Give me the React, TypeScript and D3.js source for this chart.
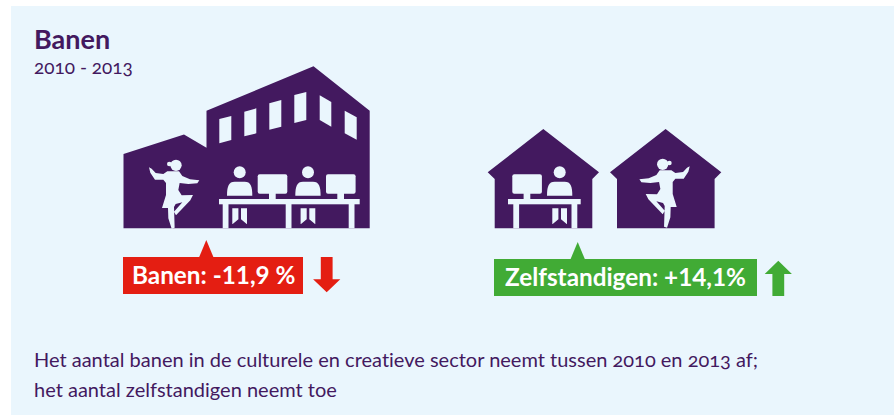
import React from 'react';
import * as d3 from 'd3';

const WIDTH = 894;
const HEIGHT = 415;
const PURPLE = '#43195f';
const PANEL = '#eaf6fd';
const RED = '#e41e12';
const GREEN = '#41ab35';

const title = 'Banen';
const period = '2010 - 2013';
const notes = [
  'Het aantal banen in de culturele en creatieve sector neemt tussen 2010 en 2013 af;',
  'het aantal zelfstandigen neemt toe',
];
const calloutLabels = ['Banen: -11,9 %', 'Zelfstandigen: +14,1%'];
const calloutValues = [-11.9, 14.1];

type Pt = [number, number];
const line = d3.line<Pt>();
const poly = (pts: Pt[]) => line(pts) + 'Z';

const bigBuilding: Pt[] = [
  [123.5, 154], [184, 134.5], [206.5, 147.7], [206.5, 110.7], [313.5, 66.3],
  [369.7, 110.7], [369.7, 228.3], [123.5, 228.3],
];
const windows: Pt[][] = [
  [[219.3, 119], [231.3, 116], [231.3, 140], [219.3, 143.3]],
  [[244.3, 111.7], [256.3, 108.3], [256.3, 133.3], [244.3, 136.3]],
  [[269.3, 103.3], [281.3, 100], [281.3, 126.7], [269.3, 129.7]],
  [[294.3, 95], [306.3, 92], [306.3, 120], [294.3, 123]],
  [[319.7, 95.3], [331.3, 102], [331.3, 126.7], [319.7, 120]],
  [[344.7, 110.7], [356.7, 117.3], [356.7, 139.7], [344.7, 133.3]],
];
const house: Pt[] = [
  [0, 43.3], [55.6, 0], [111.3, 43.3], [104.6, 50], [104.6, 99.3], [7, 99.3], [7, 50],
];
// dancer outline at 3x, origin top-left of the crop it was traced from
const dancer: Pt[] = [
  [117, 337], [125, 341], [137, 354], [160, 357], [172, 349], [207, 349], [217, 363], [240, 373],
  [268, 376], [262, 385], [235, 387], [209, 384], [205, 405], [215, 421], [249, 420], [241, 436],
  [198, 481], [192, 470], [217, 442], [197, 447], [192, 456], [194, 518], [185, 521], [175, 490],
  [174, 459], [156, 459], [168, 420], [168, 384], [160, 374], [135, 374], [121, 353],
];

function Dancer({ transform }: { transform: string }) {
  return (
    <g transform={transform} fill={PANEL}>
      <path d={poly(dancer)} />
      <circle cx={198} cy={331} r={17} />
      <circle cx={178} cy={327} r={7} />
    </g>
  );
}

// seated figure, origin at the head centre
function Person({ x }: { x: number }) {
  return (
    <g transform={`translate(${x},172.3)`} fill={PANEL}>
      <circle r={6} />
      <path d="M-12.7,23.4 C-12.7,14 -11,9.4 -5,9.4 L5,9.4 C11,9.4 12.6,14 12.6,23.4 Z" />
      <path d="M-7.4,36 L-1.3,36 L-1.3,47 L-7,51.7 L-7.4,51.7 Z M1.3,36 L7.3,36 L7.3,51.7 L7,51.7 L1.3,47 Z" />
    </g>
  );
}

function Monitor({ x }: { x: number }) {
  return (
    <g fill={PANEL}>
      <rect x={x} y={174.3} width={29.6} height={19.4} rx={2} />
      <rect x={x + 11.3} y={193} width={6.7} height={7} />
    </g>
  );
}

function Desk({ x, width, legs }: { x: number; width: number; legs: number[] }) {
  return (
    <g fill={PANEL}>
      <rect x={x} y={199} width={width} height={5.3} />
      {legs.map(l => <rect key={l} x={l} y={204} width={5.8} height={24.3} />)}
    </g>
  );
}

const boxes = [
  { x: 123, y: 257, w: 180, h: 37, apex: 206.3, fill: RED, text: 132 },
  { x: 494, y: 259, w: 263, h: 37, apex: 577.7, fill: GREEN, text: 505 },
];

export default function App() {
  return (
    <svg width={WIDTH} height={HEIGHT} style={{ position: 'absolute', left: 0, top: 0, background: '#fff', fontVariantLigatures: 'none' }}
      fontFamily="Lato, 'Noto Sans', sans-serif">
      <rect x={11} y={6} width={WIDTH - 11} height={HEIGHT - 6} fill={PANEL} />

      <text x={34} y={49} fontSize={27} fontWeight={700} fill={PURPLE}>{title}</text>
      <text x={34} y={74} fontSize={19} fill={PURPLE} style={{ fontFeatureSettings: '"onum"' }}>{period}</text>

      {/* big building */}
      <path d={poly(bigBuilding)} fill={PURPLE} />
      {windows.map((w, i) => <path key={i} d={poly(w)} fill={PANEL} />)}
      <Dancer transform="translate(110,55) scale(0.3333)" />
      <Person x={239.7} />
      <Monitor x={257.7} />
      <Person x={308} />
      <Monitor x={326} />
      <Desk x={219} width={140.7} legs={[222.7, 285.7, 348.7]} />

      {/* two small houses */}
      <path d={poly(house)} transform="translate(487.7,129)" fill={PURPLE} />
      <path d={poly(house)} transform="translate(610,129)" fill={PURPLE} />
      <Monitor x={512.3} />
      <Person x={559.7} />
      <Desk x={508} width={72.7} legs={[513.3, 571.5]} />
      <Dancer transform="translate(728.7,120) scale(-0.3333,0.3333) translate(0,-198)" />

      {/* callouts */}
      {boxes.map((b, i) => (
        <g key={i}>
          <path d={poly([[b.apex - 7.3, b.y + 0.5], [b.apex, b.y - 17], [b.apex + 7.3, b.y + 0.5]])} fill={b.fill} />
          <rect x={b.x} y={b.y} width={b.w} height={b.h} fill={b.fill} />
          <text x={b.text} y={b.y + 27} fontSize={24.3} fontWeight={700} fill="#fff">{calloutLabels[i]}</text>
        </g>
      ))}

      {/* direction arrows, picked from the sign of each change */}
      {calloutValues.map((v, i) => {
        const up = v > 0;
        const cx = up ? 778.3 : 326.7;
        const tail = up ? 296 : 257;
        const tip = up ? 260.7 : 292.3;
        const neck = up ? 274 : 279.3;
        return (
          <path key={i} fill={up ? GREEN : RED} d={poly([
            [cx - 5.9, tail], [cx - 5.9, neck], [cx - 13.6, neck], [cx, tip],
            [cx + 13.6, neck], [cx + 5.9, neck], [cx + 5.9, tail],
          ])} />
        );
      })}

      {notes.map((n, i) => (
        <text key={i} x={34} y={367 + i * 30} fontSize={20} fill={PURPLE} style={{ fontFeatureSettings: '"onum"' }}>{n}</text>
      ))}
    </svg>
  );
}
